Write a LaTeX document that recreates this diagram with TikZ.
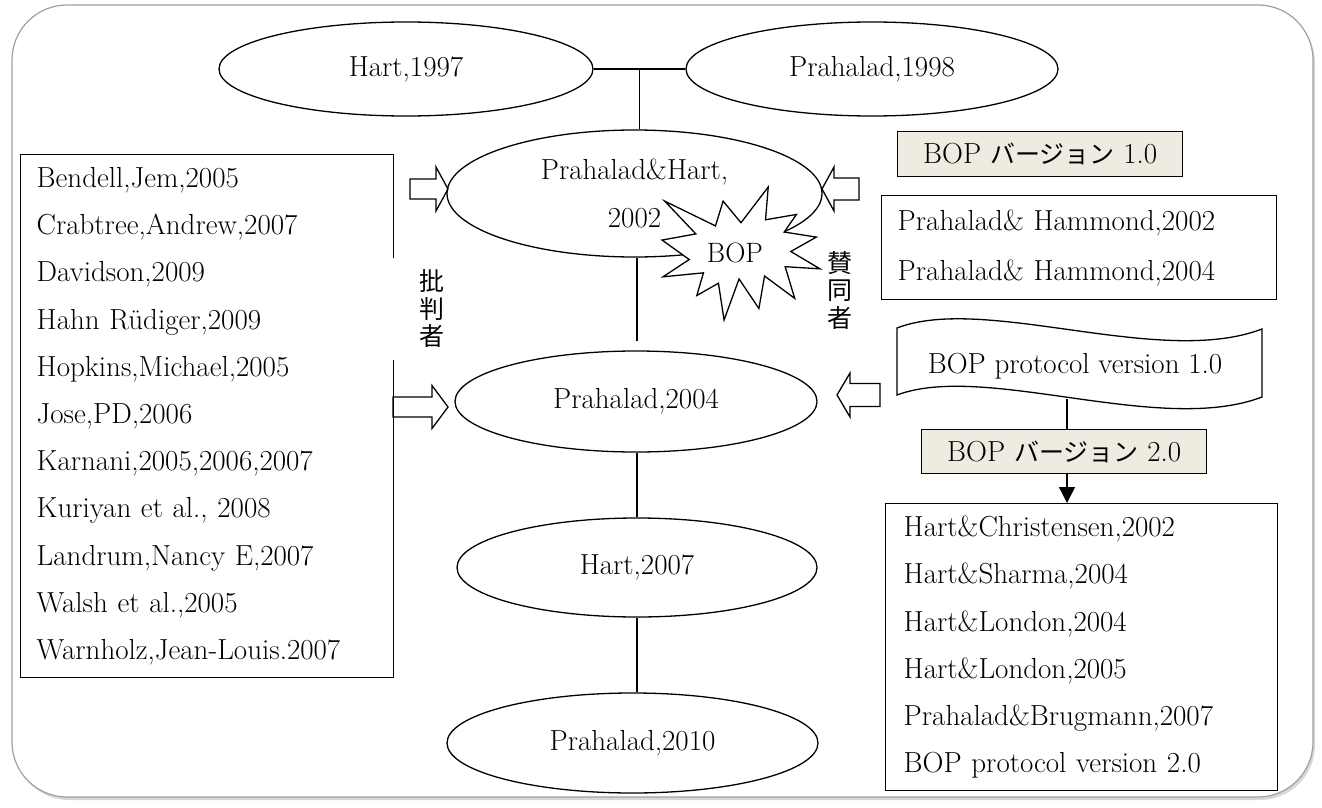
\documentclass[tikz,border=0pt]{standalone}
\usepackage{fontspec}
\newfontfamily\cjk{Noto Sans CJK JP}
\usetikzlibrary{shapes.geometric,arrows.meta,calc,shadows}
\definecolor{tagfill}{HTML}{EEECE1}
\definecolor{framegray}{HTML}{A0A0A0}
% hollow block arrow: tail x, tip x, y, shaft half width, head half width, head length (signed)
\newcommand{\blockarrow}[6]{%
  \draw[blockarrow] ({#1},{#3-#4}) -- ({#2-(#6)},{#3-#4}) -- ({#2-(#6)},{#3-#5}) -- ({#2},{#3})
    -- ({#2-(#6)},{#3+#5}) -- ({#2-(#6)},{#3+#4}) -- ({#1},{#3+#4}) -- cycle;}
\begin{document}
\begin{tikzpicture}[x=1pt,y=-1pt,
  every node/.style={font=\fontsize{29}{47.2}\selectfont},
  oval/.style={draw, ellipse, line width=1.3pt, inner sep=0pt},
  listbox/.style={draw, rectangle, line width=1.4pt, inner xsep=16pt, inner ysep=0pt,
    align=left, anchor=north west},
  tagbox/.style={draw, rectangle, line width=1.4pt, fill=tagfill, inner sep=0pt,
    anchor=north west, font=\fontsize{29}{30}\selectfont},
  link/.style={line width=1.3pt},
  blockarrow/.style={line width=1.3pt, line join=miter},
  vlabel/.style={fill=white, inner sep=0pt, align=center,
    font=\cjk\fontsize{25}{27.5}\selectfont}
]
% canvas and outer rounded frame
\fill[white] (0,0) rectangle (1322,808);
\useasboundingbox (0,0) rectangle (1322,808);
\draw[draw=framegray, line width=1.2pt, fill=white, rounded corners=55pt,
  drop shadow={opacity=0.3, shadow xshift=2pt, shadow yshift=-3pt}]
  (12,5) rectangle (1313,797);

% reviewers (left) and supporters (right)
\node[listbox, text width=341pt, minimum height=523pt] (critics) at (20,154)
  {Bendell,Jem,2005\\Crabtree,Andrew,2007\\Davidson,2009\\Hahn Rüdiger,2009\\
   Hopkins,Michael,2005\\Jose,PD,2006\\Karnani,2005,2006,2007\\Kuriyan et al., 2008\\
   Landrum,Nancy E,2007\\Walsh et al.,2005\\Warnholz,Jean-Louis.2007};
\node[listbox, text width=363pt, minimum height=104pt,
  font=\fontsize{29}{50}\selectfont] (hammond) at (881,195)
  {Prahalad\& Hammond,2002\\Prahalad\& Hammond,2004};
\node[listbox, text width=356pt, inner xsep=18pt, minimum height=287pt] (list2) at (885,503)
  {Hart\&Christensen,2002\\Hart\&Sharma,2004\\Hart\&London,2004\\Hart\&London,2005\\
   Prahalad\&Brugmann,2007\\BOP protocol version 2.0};

% version tags
\node[tagbox, minimum width=285pt, minimum height=45pt] (v1) at (897,131)
  {BOP {\cjk\fontsize{25}{30}\selectfont バージョン} 1.0};
\node[tagbox, minimum width=285pt, minimum height=44pt] (v2) at (921,429)
  {BOP {\cjk\fontsize{25}{30}\selectfont バージョン} 2.0};

% punched-tape document
\draw[line width=1.3pt, fill=white] (897,328) .. controls (985,294) and (1160,368) .. (1262,329)
  -- (1262,397) .. controls (1160,436) and (985,362) .. (897,395) -- cycle;
\node (tape) at (1075,366) {BOP protocol version 1.0};
\coordinate (tapebot) at (1067,399);
\draw[link] (tapebot) -- (tapebot |- v2.north);
\draw[link, -{Triangle[width=16pt,length=16pt]}] (tapebot |- v2.south) -- (tapebot |- list2.north);

% block arrows toward the central chain
\blockarrow{410}{448}{189}{10}{22}{12}
\blockarrow{393}{448}{407}{10}{21.5}{16}
\blockarrow{859}{822}{189}{11}{22}{-12}
\blockarrow{880}{837}{395}{11.5}{22}{-13}

% central chain of works
\node[oval, minimum width=374pt, minimum height=94pt] (hart97) at (406,69) {Hart,1997};
\node[oval, minimum width=372pt, minimum height=94pt] (pra98) at (872,69) {Prahalad,1998};
\node[oval, minimum width=375pt, minimum height=127pt, align=center] (ph02) at (634.5,193.5)
  {Prahalad\&Hart,\\2002};
\node[oval, minimum width=362pt, minimum height=101pt] (pra04) at (636,401.5) {Prahalad,2004};
\node[oval, minimum width=360pt, minimum height=99pt] (hart07) at (637,567.5) {Hart,2007};
\node[oval, minimum width=371pt, minimum height=100pt] (pra10) at (632.5,743) {Prahalad,2010};

\draw[link] (hart97.east) -- (pra98.west);
\coordinate (join) at ($(hart97.east)!0.5!(pra98.west)$);
\draw[link] (join) -- (join |- ph02.north);
\coordinate (spine) at (ph02.south -| hart07.north);
\draw[link, shorten >=9pt] (spine) -- (spine |- pra04.north);
\draw[link] (pra04.south -| hart07.north) -- (hart07.north);
\draw[link] (hart07.south) -- (hart07.south |- pra10.north);

% explosion burst with BOP
\begin{scope}[shift={(662,187)}, x=158/216*1pt, y=-133/216*1pt]
  \draw[line width=1.3pt, fill=white, line join=miter]
    (108,58) -- (145.22,0) -- (141.55,53.25) -- (183.8,44.57) -- (167.02,73.15)
    -- (210.97,81.37) -- (176.07,104.75) -- (216,132.9) -- (168.37,129.42)
    -- (181.45,180.95) -- (140.2,144.57) -- (132.47,197.37) -- (105.32,149.35)
    -- (84.85,216) -- (77.15,156.27) -- (47.62,176.17) -- (56.67,139.37)
    -- (1.35,145.87) -- (37.22,117.75) -- (0,86.15) -- (46.27,76.17)
    -- (3.7,22.95) -- (73.12,63.2) -- (83.52,22.95) -- cycle;
\end{scope}
\node[font=\fontsize{28}{30}\selectfont] (bop) at (735,253) {BOP};

% vertical labels
\node[vlabel, minimum width=80pt, minimum height=102pt] (critlabel) at (432,309) {批\\判\\者};
\node[vlabel, inner sep=2pt] (suplabel) at (840,290) {賛\\同\\者};
\end{tikzpicture}
\end{document}
